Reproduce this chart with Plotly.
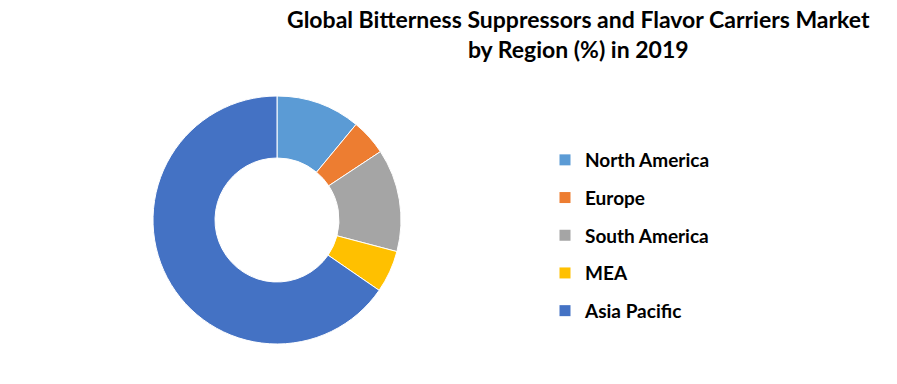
import plotly.graph_objects as go

regions = ["North America", "Europe", "South America", "MEA", "Asia Pacific"]
shares = [11.0, 4.7, 13.4, 5.5, 65.4]
colors = ["#5B9BD5", "#ED7D31", "#A5A5A5", "#FFC000", "#4472C4"]

W, H = 897, 384
cx, cy, r = 277, 220, 124

fig = go.Figure()
fig.add_trace(go.Pie(
    labels=regions, values=shares, hole=0.5, sort=False, direction="clockwise",
    rotation=0, marker=dict(colors=colors, line=dict(color="white", width=1)),
    textinfo="none", hoverinfo="label+percent", showlegend=False,
    domain=dict(x=[(cx - r) / W, (cx + r) / W], y=[(H - cy - r) / H, (H - cy + r) / H]),
))
for i, (name, col) in enumerate(zip(regions, colors)):
    fig.add_trace(go.Scatter(
        x=[None], y=[None], mode="markers", name=name, legendgroup=f"g{i}",
        marker=dict(symbol="square", size=11, color=col), showlegend=True,
    ))

fig.update_layout(
    width=W, height=H, margin=dict(l=0, r=0, t=0, b=0),
    paper_bgcolor="white", plot_bgcolor="white",
    xaxis=dict(visible=False), yaxis=dict(visible=False),
    font=dict(family="Lato", color="#000000"),
    legend=dict(
        x=545 / W, y=1 - 141 / H, xanchor="left", yanchor="top",
        font=dict(family="Lato", size=19, color="#000000", weight="bold"),
        tracegroupgap=10, itemsizing="trace", bgcolor="rgba(0,0,0,0)",
    ),
    annotations=[dict(
        text="<b>Global Bitterness Suppressors and Flavor Carriers Market<br>by Region (%) in 2019</b>",
        x=578 / W, y=1 - 3 / H, xref="paper", yref="paper", xanchor="center", yanchor="top",
        showarrow=False, font=dict(family="Lato", size=23, color="#000000"),
    )],
)
fig.write_html("out.html")
